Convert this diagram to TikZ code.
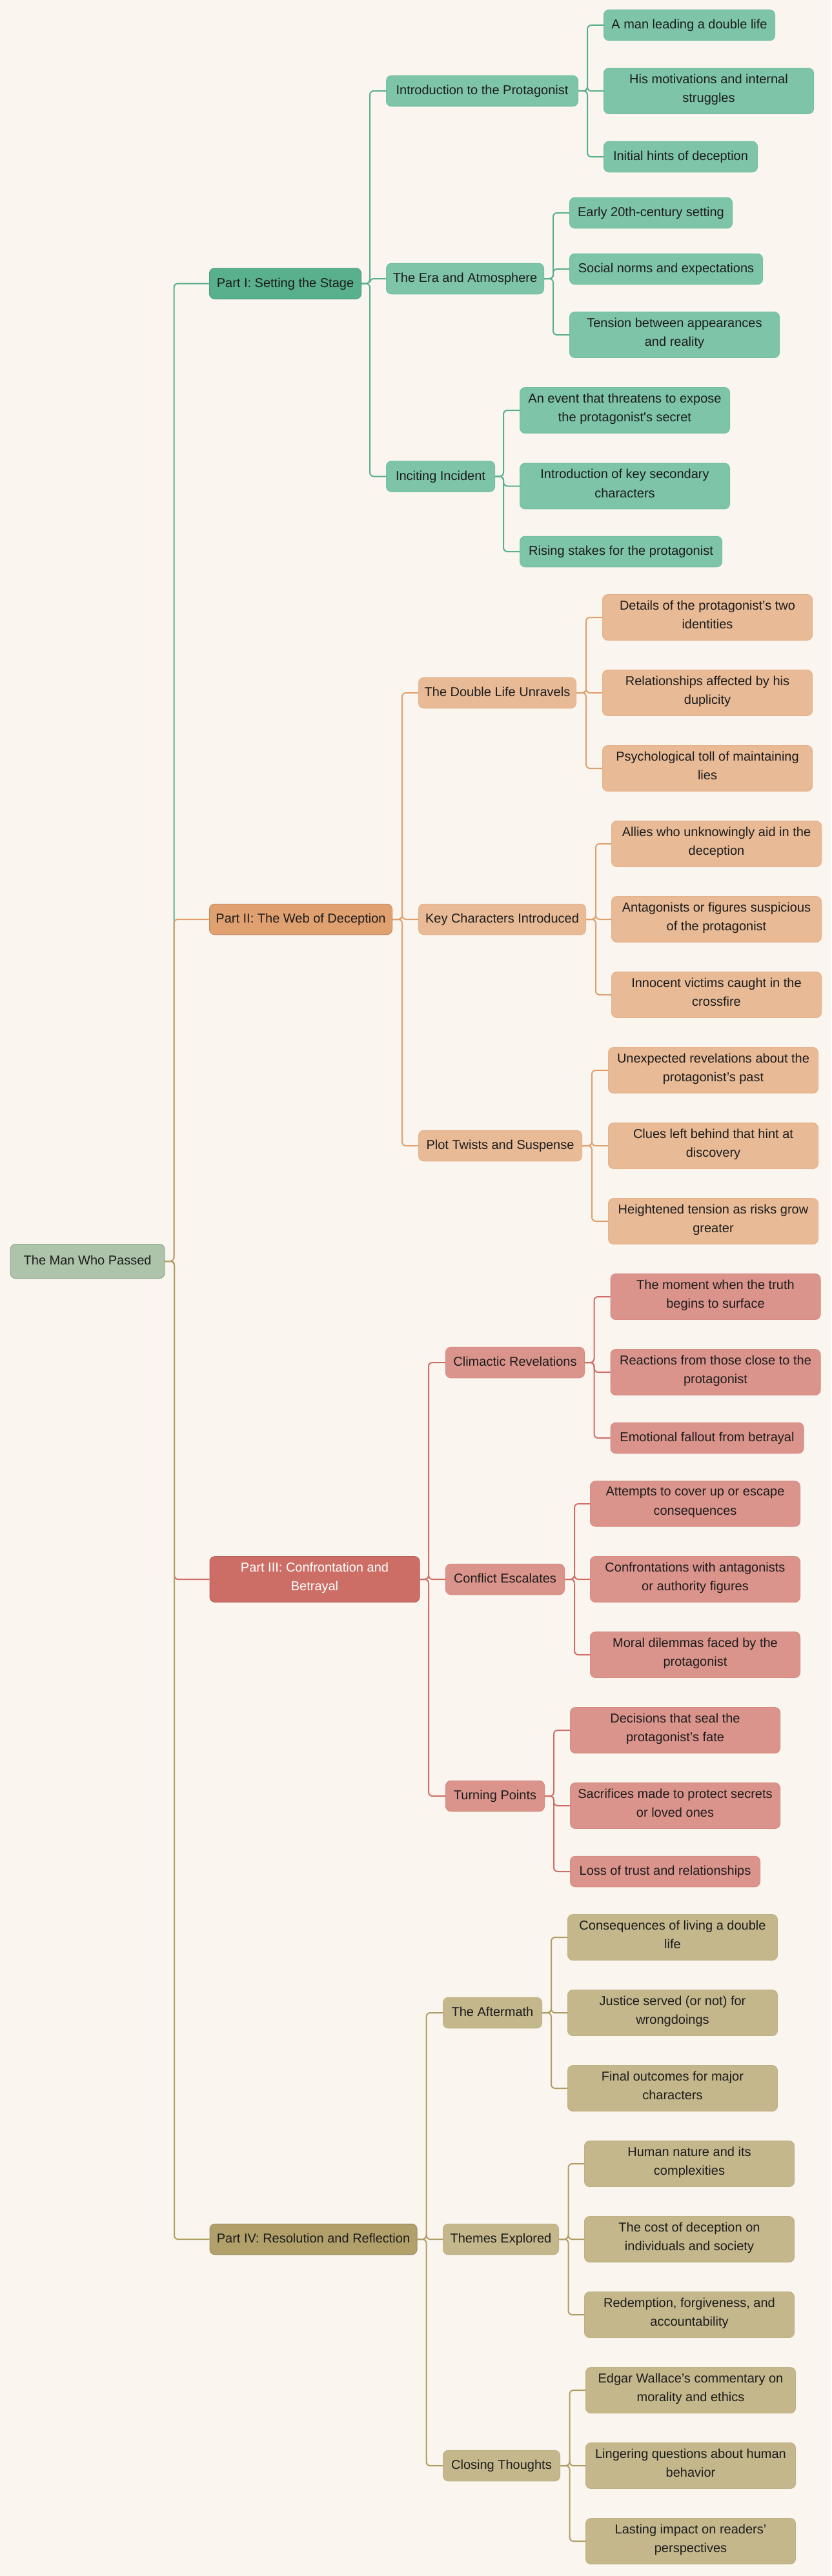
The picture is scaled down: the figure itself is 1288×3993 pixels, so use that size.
\documentclass[tikz,border=0pt]{standalone}
\usepackage{fontspec}
\newfontfamily\mainfnt{Liberation Sans}
\definecolor{bg}{HTML}{FAF6EF}
\definecolor{rootf}{HTML}{ADC3AA}
\definecolor{pAf}{HTML}{58B08C}\definecolor{cAf}{HTML}{7DC4A8}\definecolor{lA}{HTML}{5AAF8B}
\definecolor{pBf}{HTML}{E0A070}\definecolor{cBf}{HTML}{E8BA96}\definecolor{lB}{HTML}{E0A06E}
\definecolor{pCf}{HTML}{CD6E66}\definecolor{cCf}{HTML}{DB948C}\definecolor{lC}{HTML}{CF6E66}
\definecolor{pDf}{HTML}{B2A06A}\definecolor{cDf}{HTML}{C4B78C}\definecolor{lD}{HTML}{B09D64}
\definecolor{txt}{HTML}{1C1C1C}
\newcommand\NL{\\\strut}
\newcommand\conn[4]{\draw[#1] (#2.east) -- ([xshift=-#4]#3.west |- #2.east) |- (#3.west);}
\begin{document}
\begin{tikzpicture}[x=1pt,y=-1pt,
  box/.style={anchor=west, rounded corners=8pt, align=center, inner xsep=6pt, inner ysep=9pt,
    font=\mainfnt\fontsize{20}{29.5}\selectfont, text=txt, line width=1pt,
    execute at begin node=\strut},
  rootbox/.style={box, fill=rootf, draw=rootf!85!black, inner ysep=11.75pt},
  pA/.style={box, fill=pAf, draw=pAf!88!black}, cA/.style={box, fill=cAf, draw=cAf!75!pAf},
  pB/.style={box, fill=pBf, draw=pBf!88!black}, cB/.style={box, fill=cBf, draw=cBf!70!pBf},
  pC/.style={box, fill=pCf, draw=pCf!88!black, text=white}, cC/.style={box, fill=cCf, draw=cCf!75!pCf},
  pD/.style={box, fill=pDf, draw=pDf!88!black}, cD/.style={box, fill=cDf, draw=cDf!75!pDf},
  wA/.style={draw=lA, line width=2pt, rounded corners=6pt},
  wB/.style={draw=lB, line width=2pt, rounded corners=6pt},
  wC/.style={draw=lC, line width=2pt, rounded corners=6pt},
  wD/.style={draw=lD, line width=2pt, rounded corners=6pt}]
\useasboundingbox (0,0) rectangle (1288,3993);
\fill[bg] (0,0) rectangle (1288,3993);

% root
\node[rootbox, minimum width=239pt] (r) at (15.6,1955) {The Man Who Passed};

% Part I
\node[pA, minimum width=235pt] (p1) at (324,439.5) {Part I: Setting the Stage};
\node[cA, minimum width=297pt] (a1) at (598,141) {Introduction to the Protagonist};
\node[cA, minimum width=265pt] (a1x) at (935,39) {A man leading a double life};
\node[cA, minimum width=325pt] (a1y) at (935,141) {His motivations and internal\NL struggles};
\node[cA, minimum width=238pt] (a1z) at (935,243) {Initial hints of deception};
\node[cA, minimum width=244pt] (a2) at (598,432) {The Era and Atmosphere};
\node[cA, minimum width=252pt] (a2x) at (882,330) {Early 20th-century setting};
\node[cA, minimum width=299pt] (a2y) at (882,417) {Social norms and expectations};
\node[cA, minimum width=325pt] (a2z) at (882,519) {Tension between appearances\NL and reality};
\node[cA, minimum width=168pt] (a3) at (598,738.5) {Inciting Incident};
\node[cA, minimum width=325pt] (a3x) at (805,636) {An event that threatens to expose\NL the protagonist's secret};
\node[cA, minimum width=325pt] (a3y) at (805,753.5) {Introduction of key secondary\NL characters};
\node[cA, minimum width=313pt] (a3z) at (805,855) {Rising stakes for the protagonist};

% Part II
\node[pB, minimum width=283pt] (p2) at (324,1425) {Part II: The Web of Deception};
\node[cB, minimum width=244pt] (b1) at (648,1074) {The Double Life Unravels};
\node[cB, minimum width=325pt] (b1x) at (933,957) {Details of the protagonist’s two\NL identities};
\node[cB, minimum width=325pt] (b1y) at (933,1074) {Relationships affected by his\NL duplicity};
\node[cB, minimum width=325pt] (b1z) at (933,1191) {Psychological toll of maintaining\NL lies};
\node[cB, minimum width=259pt] (b2) at (648,1425) {Key Characters Introduced};
\node[cB, minimum width=325pt] (b2x) at (947,1308) {Allies who unknowingly aid in the\NL deception};
\node[cB, minimum width=325pt] (b2y) at (947,1425) {Antagonists or figures suspicious\NL of the protagonist};
\node[cB, minimum width=325pt] (b2z) at (947,1542) {Innocent victims caught in the\NL crossfire};
\node[cB, minimum width=253pt] (b3) at (648,1776) {Plot Twists and Suspense};
\node[cB, minimum width=325pt] (b3x) at (942,1659) {Unexpected revelations about the\NL protagonist’s past};
\node[cB, minimum width=325pt] (b3y) at (942,1776) {Clues left behind that hint at\NL discovery};
\node[cB, minimum width=325pt] (b3z) at (942,1893) {Heightened tension as risks grow\NL greater};

% Part III
\node[pC, minimum width=325pt] (p3) at (324.5,2448) {Part III: Confrontation and\NL Betrayal};
\node[cC, minimum width=215pt] (c1) at (690,2112) {Climactic Revelations};
\node[cC, minimum width=325pt] (c1x) at (945.5,2010) {The moment when the truth\NL begins to surface};
\node[cC, minimum width=325pt] (c1y) at (945.5,2127) {Reactions from those close to the\NL protagonist};
\node[cC, minimum width=299pt] (c1z) at (945.5,2229) {Emotional fallout from betrayal};
\node[cC, minimum width=184pt] (c2) at (690,2448) {Conflict Escalates};
\node[cC, minimum width=325pt] (c2x) at (914,2331) {Attempts to cover up or escape\NL consequences};
\node[cC, minimum width=325pt] (c2y) at (914,2448) {Confrontations with antagonists\NL or authority figures};
\node[cC, minimum width=325pt] (c2z) at (914,2565) {Moral dilemmas faced by the\NL protagonist};
\node[cC, minimum width=153pt] (c3) at (690,2784) {Turning Points};
\node[cC, minimum width=325pt] (c3x) at (883,2682) {Decisions that seal the\NL protagonist’s fate};
\node[cC, minimum width=325pt] (c3y) at (883,2799) {Sacrifices made to protect secrets\NL or loved ones};
\node[cC, minimum width=294pt] (c3z) at (883,2901) {Loss of trust and relationships};

% Part IV
\node[pD, minimum width=321pt] (p4) at (324.5,3471) {Part IV: Resolution and Reflection};
\node[cD, minimum width=153pt] (d1) at (686,3120) {The Aftermath};
\node[cD, minimum width=325pt] (d1x) at (879,3003) {Consequences of living a double\NL life};
\node[cD, minimum width=325pt] (d1y) at (879,3120) {Justice served (or not) for\NL wrongdoings};
\node[cD, minimum width=325pt] (d1z) at (879,3237) {Final outcomes for major\NL characters};
\node[cD, minimum width=179pt] (d2) at (686,3471) {Themes Explored};
\node[cD, minimum width=325pt] (d2x) at (905,3354) {Human nature and its\NL complexities};
\node[cD, minimum width=325pt] (d2y) at (905,3471) {The cost of deception on\NL individuals and society};
\node[cD, minimum width=325pt] (d2z) at (905,3588) {Redemption, forgiveness, and\NL accountability};
\node[cD, minimum width=181pt] (d3) at (686,3822) {Closing Thoughts};
\node[cD, minimum width=325pt] (d3x) at (907,3705) {Edgar Wallace’s commentary on\NL morality and ethics};
\node[cD, minimum width=325pt] (d3y) at (907,3822) {Lingering questions about human\NL behavior};
\node[cD, minimum width=325pt] (d3z) at (907,3939) {Lasting impact on readers’\NL perspectives};

% root connectors
\conn{wA}{r}{p1}{54.5pt}
\conn{wB}{r}{p2}{54.5pt}
\conn{wC}{r}{p3}{54.5pt}
\conn{wD}{r}{p4}{54.5pt}

% Part I connectors
\conn{wA}{p1}{a1}{25pt}\conn{wA}{p1}{a2}{25pt}\conn{wA}{p1}{a3}{25pt}
\conn{wA}{a1}{a1x}{25pt}\conn{wA}{a1}{a1y}{25pt}\conn{wA}{a1}{a1z}{25pt}
\conn{wA}{a2}{a2x}{25pt}\conn{wA}{a2}{a2y}{25pt}\conn{wA}{a2}{a2z}{25pt}
\conn{wA}{a3}{a3x}{25pt}\conn{wA}{a3}{a3y}{25pt}\conn{wA}{a3}{a3z}{25pt}
% Part II connectors
\conn{wB}{p2}{b1}{25pt}\conn{wB}{p2}{b2}{25pt}\conn{wB}{p2}{b3}{25pt}
\conn{wB}{b1}{b1x}{25pt}\conn{wB}{b1}{b1y}{25pt}\conn{wB}{b1}{b1z}{25pt}
\conn{wB}{b2}{b2x}{24pt}\conn{wB}{b2}{b2y}{24pt}\conn{wB}{b2}{b2z}{24pt}
\conn{wB}{b3}{b3x}{25pt}\conn{wB}{b3}{b3y}{25pt}\conn{wB}{b3}{b3z}{25pt}
% Part III connectors
\conn{wC}{p3}{c1}{26pt}\conn{wC}{p3}{c2}{26pt}\conn{wC}{p3}{c3}{26pt}
\conn{wC}{c1}{c1x}{25pt}\conn{wC}{c1}{c1y}{25pt}\conn{wC}{c1}{c1z}{25pt}
\conn{wC}{c2}{c2x}{24pt}\conn{wC}{c2}{c2y}{24pt}\conn{wC}{c2}{c2z}{24pt}
\conn{wC}{c3}{c3x}{25pt}\conn{wC}{c3}{c3y}{25pt}\conn{wC}{c3}{c3z}{25pt}
% Part IV connectors
\conn{wD}{p4}{d1}{25.5pt}\conn{wD}{p4}{d2}{25.5pt}\conn{wD}{p4}{d3}{25.5pt}
\conn{wD}{d1}{d1x}{25pt}\conn{wD}{d1}{d1y}{25pt}\conn{wD}{d1}{d1z}{25pt}
\conn{wD}{d2}{d2x}{24.5pt}\conn{wD}{d2}{d2y}{24.5pt}\conn{wD}{d2}{d2z}{24.5pt}
\conn{wD}{d3}{d3x}{24.5pt}\conn{wD}{d3}{d3y}{24.5pt}\conn{wD}{d3}{d3z}{24.5pt}
\end{tikzpicture}
\end{document}
